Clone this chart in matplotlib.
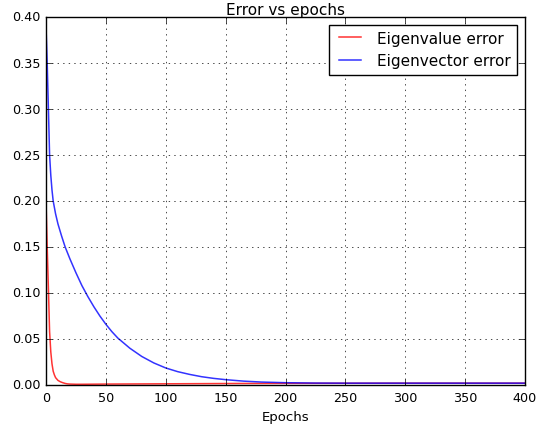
import matplotlib
matplotlib.use("Agg")
import matplotlib.pyplot as plt

plt.style.use("classic")

# Eigenvalue error (red)
val_epochs = [0, 1, 2, 3, 4, 5, 6, 7, 8, 9, 10, 12, 14, 16, 18, 20, 25, 30, 50, 100, 150, 200, 300, 400]
val_error = [0.20, 0.15, 0.105, 0.058, 0.036, 0.023, 0.015, 0.011, 0.008, 0.0065, 0.005, 0.0035, 0.0025,
             0.0017, 0.0012, 0.001, 0.0008, 0.0008, 0.001, 0.0013, 0.0016, 0.0018, 0.002, 0.002]

# Eigenvector error (blue)
vec_epochs = [0, 1, 2, 3, 4, 5, 6, 8, 10, 13, 16, 20, 25, 30, 35, 40, 45, 50, 55, 60, 70, 80, 90, 100,
              110, 120, 130, 140, 150, 165, 180, 200, 225, 250, 300, 400]
vec_error = [0.39, 0.35, 0.30, 0.25, 0.228, 0.212, 0.20, 0.186, 0.175, 0.162, 0.15, 0.137, 0.122, 0.108,
             0.096, 0.085, 0.075, 0.066, 0.058, 0.051, 0.040, 0.031, 0.024, 0.0185, 0.0145, 0.0115,
             0.009, 0.0072, 0.0058, 0.0042, 0.0032, 0.0025, 0.0021, 0.002, 0.002, 0.002]

xticks = [0, 50, 100, 150, 200, 250, 300, 350, 400]
yticks = [0.00, 0.05, 0.10, 0.15, 0.20, 0.25, 0.30, 0.35, 0.40]

fig = plt.figure(figsize=(5.52, 4.31), dpi=100, facecolor="white")
ax = fig.add_axes([46 / 552, 45 / 431, 479 / 552, 368 / 431])
ax.plot(val_epochs, val_error, color="red", alpha=0.8, lw=1.1, label="Eigenvalue error")
ax.plot(vec_epochs, vec_error, color="blue", alpha=0.8, lw=1.1, label="Eigenvector error")
ax.set_xlim(0, 400)
ax.set_ylim(0, 0.40)
ax.set_xticks(xticks)
ax.set_yticks(yticks)
ax.set_yticklabels([f"{v:.2f}" for v in yticks])
ax.tick_params(labelsize=9.2)
ax.grid(True)
ax.set_title("Error vs epochs", fontsize=11, pad=2)
ax.set_xlabel("Epochs", fontsize=9.5)
leg = ax.legend(loc="upper right", fontsize=11)
fig.savefig("out.png", dpi=100, facecolor="white")
